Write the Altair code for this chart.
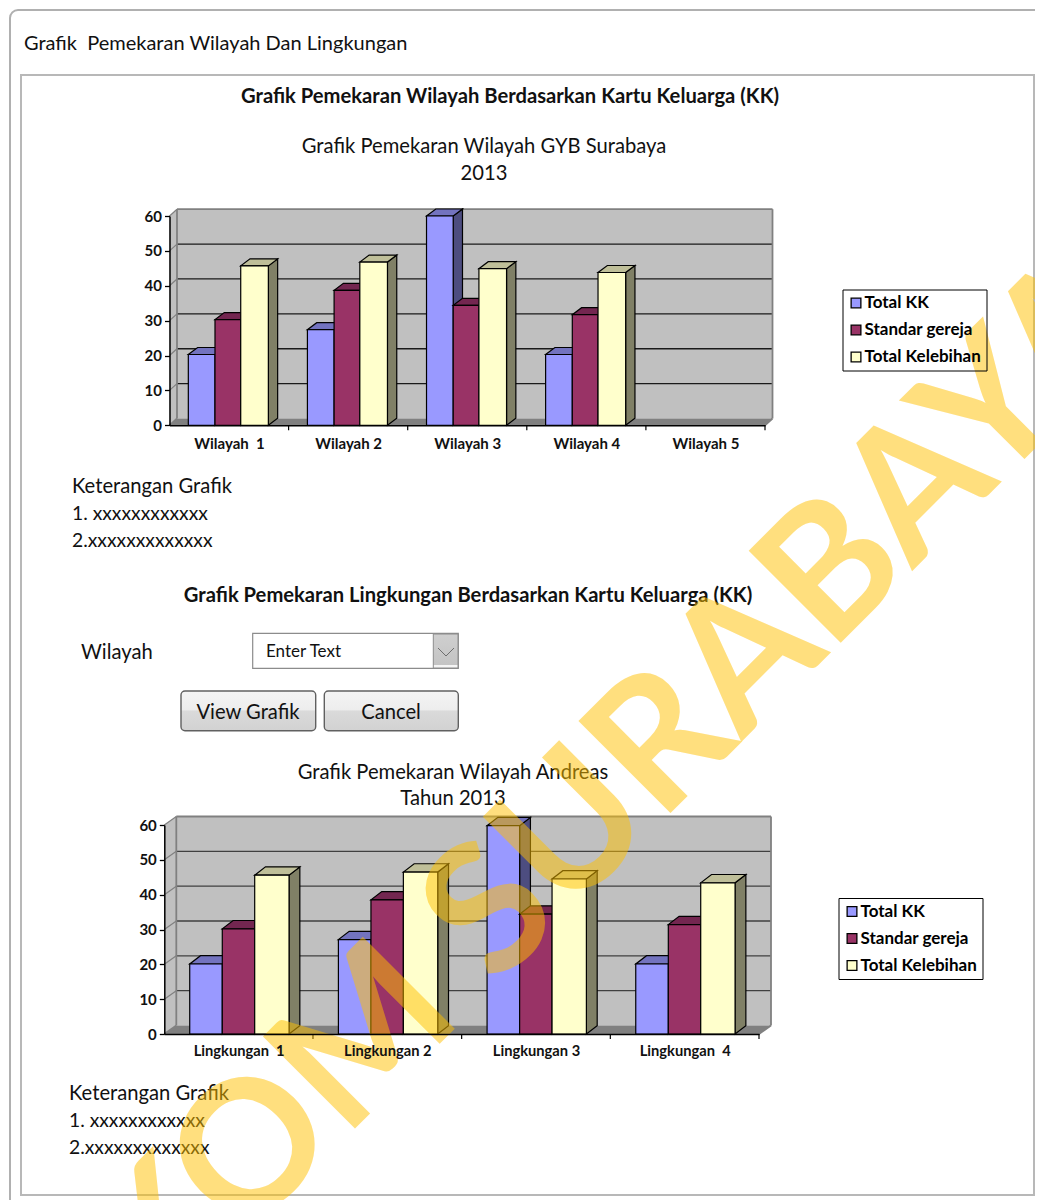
import altair as alt
import pandas as pd

FONT = "Lato"
W, H = 1027, 1192

def X(p): return p - 8
def Y(p): return p - 6.5

# ---------- data ----------
series = ["Total KK", "Standar gereja", "Total Kelebihan"]
wilayah = ["Wilayah\u00a0 1", "Wilayah 2", "Wilayah 3", "Wilayah 4", "Wilayah 5"]
wil_kk = [20.3, 27.4, 60, 20.3]
wil_std = [30.3, 38.7, 34.4, 31.7]
wil_leb = [45.7, 46.8, 44.9, 43.8]

lingkungan = ["Lingkungan\u00a0 1", "Lingkungan 2", "Lingkungan 3", "Lingkungan\u00a0 4"]
lin_kk = [20.1, 27.1, 59.8, 20.1]
lin_std = [30.2, 38.5, 34.4, 31.4]
lin_leb = [45.6, 46.5, 44.5, 43.4]

y_ticks = [0, 10, 20, 30, 40, 50, 60]

fills = ["#9999FF", "#993366", "#FFFFCC"]
sides = ["#4D4D80", "#4D1A33", "#808066"]
tops = ["#7373BF", "#732650", "#BFBF99"]

TITLE_MAIN = "Grafik\u00a0 Pemekaran Wilayah Dan Lingkungan"
TITLE_A = "Grafik Pemekaran Wilayah Berdasarkan Kartu Keluarga (KK)"
SUB_A1 = "Grafik Pemekaran Wilayah GYB Surabaya"
SUB_A2 = "2013"
NOTE_0 = "Keterangan Grafik"
NOTE_1 = "1. xxxxxxxxxxxx"
NOTE_2 = "2.xxxxxxxxxxxxx"
TITLE_B = "Grafik Pemekaran Lingkungan Berdasarkan Kartu Keluarga (KK)"
LABEL_W = "Wilayah"
ENTER = "Enter Text"
BTN_V = "View Grafik"
BTN_C = "Cancel"
SUB_B1 = "Grafik Pemekaran Wilayah Andreas"
SUB_B2 = "Tahun 2013"
WATERMARK = "STIKOM SURABAYA"

one = pd.DataFrame({"a": [0]})


def YG(p):
    return p - 8


def text(s, x, y, size=20.2, weight="normal", align="left", color="#111111"):
    return alt.Chart(one).mark_text(font=FONT, fontSize=size, fontWeight=weight, align=align,
                                    baseline="middle", color=color).encode(
        x=alt.value(X(x)), y=alt.value(Y(y)), text=alt.value(s))


def box(x, x2, y, y2, **kw):
    return alt.Chart(one).mark_rect(**kw).encode(
        x=alt.value(X(x)), x2=alt.value(X(x2)), y=alt.value(YG(y)), y2=alt.value(YG(y2)))


def seg(x, y, x2, y2, color, width=1.0):
    return alt.Chart(one).mark_rule(color=color, strokeWidth=width).encode(
        x=alt.value(X(x)), x2=alt.value(X(x2)), y=alt.value(YG(y)), y2=alt.value(YG(y2)))


def chart3d(cats, groups, x0, x1, y0, y60, wall_dx, wall_dy, bar_dx, bar_dy, edges, legend_xy,
            grid_color, label_size, label_pad):
    n = len(cats)
    sx = alt.Scale(domain=[0, n], range=[X(x0), X(x1)], nice=False, zero=False)
    sy = alt.Scale(domain=[0, 60], range=[YG(y0), YG(y60)], nice=False, zero=False)
    ux = n / (x1 - x0)
    uy = 60 / (y0 - y60)
    wd, we = wall_dx * ux, wall_dy * uy
    d, e = bar_dx * ux, bar_dy * uy

    names = "[" + ",".join(repr(c) for c in cats) + "]"
    x_axis = alt.Axis(
        orient="bottom", offset=YG(y0) - H, values=[i + 0.5 for i in range(n)],
        labelExpr=f"{names}[floor(datum.value)]", ticks=False, grid=False,
        domainColor="#000000", domainWidth=1.5, labelFont=FONT, labelFontSize=label_size,
        labelFontWeight="bold", labelColor="#111111", labelPadding=label_pad, labelOverlap=False,
        labelFlush=False, zindex=1)
    y_axis = alt.Axis(
        orient="left", offset=-X(x0), values=y_ticks, tickSize=5, tickWidth=1.3,
        tickColor="#000000", grid=False, domainColor="#000000", domainWidth=1.5,
        labelFont=FONT, labelFontSize=15, labelFontWeight="bold", labelColor="#111111",
        labelPadding=3, zindex=1)

    def xe(f="x"): return alt.X(f"{f}:Q", scale=sx, axis=x_axis, title=None)
    def ye(f="y"): return alt.Y(f"{f}:Q", scale=sy, axis=y_axis, title=None)

    # walls
    left = pd.DataFrame({"x": [0, wd], "y": [0, we], "y2": [60, 60 + we]})
    floor = pd.DataFrame({"x": [0, wd, n, n + wd], "y": [0, 0, 0, we], "y2": [0, we, we, we]})
    wall_left = alt.Chart(left).mark_area(color="#C0C0C0", orient="vertical").encode(
        x=xe(), y=ye(), y2="y2:Q")
    wall_floor = alt.Chart(floor).mark_area(color="#808080", orient="vertical").encode(
        x=xe(), y=ye(), y2="y2:Q")
    back = pd.DataFrame({"x": [wd], "x2": [n + wd], "y": [we], "y2": [60 + we]})
    wall_back = alt.Chart(back).mark_rect(color="#C0C0C0").encode(
        x=xe(), x2="x2:Q", y=ye(), y2="y2:Q")

    grid = pd.DataFrame({"x": [wd] * 5, "x2": [n + wd] * 5, "y": [v + we for v in y_ticks[1:6]]})
    grid_l = alt.Chart(grid).mark_rule(color=grid_color, strokeWidth=1.3).encode(
        x=xe(), x2="x2:Q", y=ye())
    slant = pd.DataFrame({"x": [0] * 6, "x2": [wd] * 6,
                          "y": y_ticks[1:], "y2": [v + we for v in y_ticks[1:]]})
    slant_l = alt.Chart(slant).mark_rule(color="#808080", strokeWidth=1.2).encode(
        x=xe(), x2="x2:Q", y=ye(), y2="y2:Q")
    edge = pd.DataFrame({"x": [wd, wd, n + wd, 0, n],
                         "x2": [wd, n + wd, n + wd, wd, n + wd],
                         "y": [we, 60 + we, we, 0, 0],
                         "y2": [60 + we, 60 + we, 60 + we, we, we]})
    edge_l = alt.Chart(edge).mark_rule(color="#808080", strokeWidth=1.8).encode(
        x=xe(), x2="x2:Q", y=ye(), y2="y2:Q")

    # bars
    rows = []
    keys = list(series) + [s + " side" for s in series] + [s + " top" for s in series]
    pid = 0
    for ci, vals in enumerate(zip(*groups)):
        for si, v in enumerate(vals):
            L = ci + edges[si]
            R = ci + edges[si + 1]
            name = series[si]
            pid += 1
            for x, lo, hi in [(R, 0, v), (R + d, e, v + e)]:
                rows.append(dict(x=x, y=lo, y2=hi, poly=pid, key=name + " side"))
            pid += 1
            for x, lo, hi in [(L, v, v), (L + d, v, v + e), (R, v, v + e), (R + d, v + e, v + e)]:
                rows.append(dict(x=x, y=lo, y2=hi, poly=pid, key=name + " top"))
            pid += 1
            for x, lo, hi in [(L, 0, v), (R, 0, v)]:
                rows.append(dict(x=x, y=lo, y2=hi, poly=pid, key=name))
    bars = alt.Chart(pd.DataFrame(rows)).mark_area(
        orient="vertical", stroke="#000000", strokeWidth=1.2, opacity=1).encode(
        x=xe(), y=ye(), y2="y2:Q", detail="poly:N",
        color=alt.Color("key:N", scale=alt.Scale(domain=keys, range=fills + sides + tops),
                        legend=alt.Legend(
                            orient="none", legendX=X(legend_xy[0]), legendY=YG(legend_xy[1]),
                            values=series, title=None, symbolType="square", symbolSize=95,
                            symbolStrokeColor="#000000", symbolStrokeWidth=1.3,
                            labelFont=FONT, labelFontSize=17, labelFontWeight="bold",
                            labelColor="#000000", labelLimit=300, strokeColor="#000000",
                            padding=5, rowPadding=9, labelOffset=0, zindex=1)))

    ticks = pd.DataFrame({"x": list(range(1, n + 1)), "y": [0] * n, "y2": [-5 * uy] * n})
    tick_l = alt.Chart(ticks).mark_rule(color="#000000", strokeWidth=1.2).encode(
        x=xe(), y=ye(), y2="y2:Q")

    return alt.layer(wall_back, wall_left, wall_floor, slant_l, grid_l, edge_l, bars, tick_l)


chart_a = chart3d(wilayah, [wil_kk, wil_std, wil_leb], 169.5, 765, 425.3, 216, 7.5, 6.8, 9.3, 7,
                  [0.158, 0.382, 0.598, 0.83], (842.5, 289.5), "#1A1A1A", 15, 11)
chart_b = chart3d(lingkungan, [lin_kk, lin_std, lin_leb], 164.3, 759, 1034, 825, 12, 8.5, 10.8, 8.3,
                  [0.171, 0.39, 0.608, 0.839], (838.5, 898), "#404040", 14.7, 9)

frame = [
    box(10, 1070, 10, 1230, fillOpacity=0, stroke="#B0B0B0", strokeWidth=2, cornerRadius=8),
    box(21, 1034, 75, 1195, fillOpacity=0, stroke="#B8B8B8", strokeWidth=2),
]

btn_grad = alt.Gradient(gradient="linear", x1=0, y1=0, x2=0, y2=1, stops=[
    alt.GradientStop(color="#F4F4F4", offset=0),
    alt.GradientStop(color="#EDEDED", offset=0.48),
    alt.GradientStop(color="#DADADA", offset=0.5),
    alt.GradientStop(color="#D2D2D2", offset=1)])
arrow_grad = alt.Gradient(gradient="linear", x1=0, y1=0, x2=0, y2=1, stops=[
    alt.GradientStop(color="#CFCFCF", offset=0),
    alt.GradientStop(color="#C4C4C4", offset=0.9),
    alt.GradientStop(color="#F5F5F5", offset=0.91),
    alt.GradientStop(color="#F5F5F5", offset=1)])

widgets = [
    box(252.7, 458.3, 633.3, 668.3, fill="#FFFFFF", stroke="#8C8C8C", strokeWidth=1.2),
    box(433.3, 458, 634, 668, fill=arrow_grad, stroke="#8C8C8C", strokeWidth=1),
    seg(438, 648, 446, 656, "#6E6E6E", 1),
    seg(446, 656, 454, 648, "#6E6E6E", 1),
    box(181, 315.7, 691, 730.7, fill=btn_grad, stroke="#606060", strokeWidth=1.4, cornerRadius=4),
    box(324.3, 458.3, 691, 730.7, fill=btn_grad, stroke="#606060", strokeWidth=1.4, cornerRadius=4),
]

texts = [
    text(TITLE_MAIN, 24, 42, size=20),
    text(TITLE_A, 510, 95, weight="bold", align="center"),
    text(SUB_A1, 484, 145, align="center"),
    text(SUB_A2, 484, 172, align="center"),
    text(NOTE_0, 72, 485),
    text(NOTE_1, 72, 512, size=19.3),
    text(NOTE_2, 72, 539, size=19.3),
    text(TITLE_B, 468, 594, weight="bold", align="center"),
    text(LABEL_W, 81, 651),
    text(ENTER, 266, 650, size=17),
    text(BTN_V, 248, 711, align="center"),
    text(BTN_C, 391, 711, align="center"),
    text(SUB_B1, 453, 771, align="center"),
    text(SUB_B2, 453, 797, align="center"),
    text(NOTE_0, 69, 1092),
    text(NOTE_1, 69, 1119, size=19.3),
    text(NOTE_2, 69, 1146, size=19.3),
]

watermark = alt.Chart(one).mark_text(
    font=FONT, fontSize=180, fontWeight="bold", align="center", baseline="middle",
    color="#FFC000", opacity=0.5, angle=315).encode(
    x=alt.value(X(526)), y=alt.value(YG(881)), text=alt.value(WATERMARK))

static_a = alt.layer(*frame, *widgets, *texts)

chart = alt.layer(static_a, chart_a, chart_b, watermark).resolve_scale(
    x="independent", y="independent", color="independent"
).resolve_axis(x="independent", y="independent").resolve_legend(color="independent").properties(
    width=W, height=H, padding=0, background="#FFFFFF",
    autosize=alt.AutoSizeParams(type="none", contains="padding"),
).configure_view(stroke=None)

chart.save("out.html", embed_options={"renderer": "svg", "actions": False})
